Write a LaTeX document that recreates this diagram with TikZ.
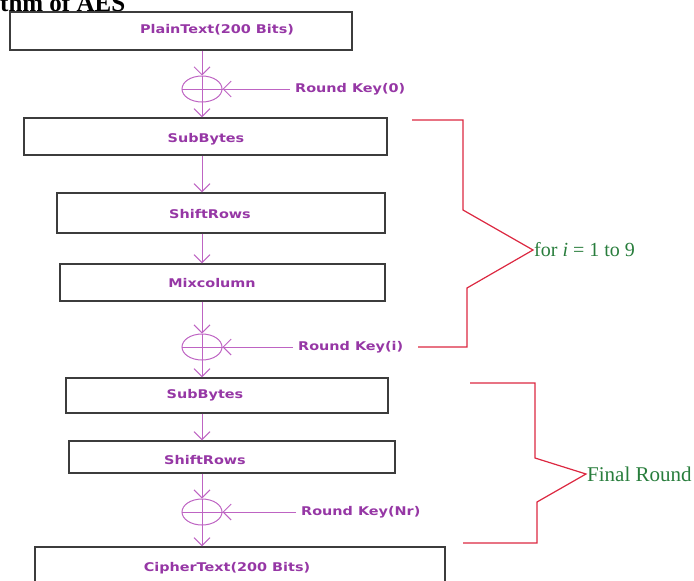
\documentclass[tikz,border=0pt]{standalone}
\usepackage{fontspec}
\setmainfont{Liberation Serif}
\newfontfamily\boxfont[FakeStretch=1.2]{DejaVu Sans}
\usetikzlibrary{arrows.meta,positioning,shapes.geometric}
\definecolor{flowpurple}{RGB}{190,100,195}
\definecolor{textpurple}{RGB}{150,55,165}
\definecolor{bracered}{RGB}{220,40,65}
\definecolor{loopgreen}{RGB}{40,125,60}
\definecolor{boxgrey}{RGB}{60,60,60}
\tikzset{
    %Define standard arrow tip
    >={Straight Barb[length=8pt,width=16pt]},
    %Define style for boxes
    blok/.style={
           rectangle,
           draw=boxgrey, line width=1.3pt,
           inner sep=0pt},
    %Define style for the texts in boxes and keys
    lbl/.style={
           font=\boxfont\bfseries\fontsize{12}{14}\selectfont,
           text=textpurple,
           inner sep=2pt},
    %Define style for the xor circles
    xorr/.style={
           ellipse,
           draw=flowpurple, line width=1pt,
           minimum width=40pt,
           minimum height=26pt,
           inner sep=0pt},
    % Define arrow style
    pil/.style={
           ->,
           draw=flowpurple,
           line width=1pt},
    brace/.style={draw=bracered, line width=1.2pt},
    roundtxt/.style={text=loopgreen, inner sep=1pt, anchor=west}
}

\begin{document}
\begin{tikzpicture}[x=1pt, y=-1pt]
\useasboundingbox (0,0) rectangle (694,581);

%title, cut by the page as in the original
\node[anchor=base west, inner sep=0pt, font=\bfseries\fontsize{25}{28}\selectfont] (title) at (0,11) {thm of AES};

%boxes
\node[blok, minimum width=342pt, minimum height=38pt] (plain) at (181,31) {};
\node[blok, minimum width=363pt, minimum height=37pt] (sub1) at (205.5,136.5) {};
\node[blok, minimum width=328pt, minimum height=40pt] (shift1) at (221,213) {};
\node[blok, minimum width=325pt, minimum height=37pt] (mix) at (222.5,282.5) {};
\node[blok, minimum width=322pt, minimum height=35pt] (sub2) at (227,395.5) {};
\node[blok, minimum width=326pt, minimum height=32pt] (shift2) at (232,457) {};
\node[blok, minimum width=410pt, minimum height=48pt] (cipher) at (240,571) {};

%texts in boxes
\node[lbl] (plainlbl) at (217,30) {PlainText(200 Bits)};
\node[lbl] (sub1lbl) at (206,139) {SubBytes};
\node[lbl] (shift1lbl) at (210,214) {ShiftRows};
\node[lbl] (mixlbl) at (212,283) {Mixcolumn};
\node[lbl] (sub2lbl) at (205,395) {SubBytes};
\node[lbl] (shift2lbl) at (205,460) {ShiftRows};
\node[lbl] (cipherlbl) at (227,568) {CipherText(200 Bits)};

%xor with the round keys
\node[xorr] (x1) at (202,89) {};
\node[xorr] (x2) at (202,347) {};
\node[xorr] (x3) at (202,512) {};
\foreach \x in {x1,x2,x3}
  \draw[flowpurple, thin] (\x.west) -- (\x.east) (\x.north) -- (\x.south);

\node[lbl, anchor=west, inner sep=5pt] (key0) at (290,89) {Round Key(0)};
\node[lbl, anchor=west, inner sep=5pt] (keyi) at (293,347) {Round Key(i)};
\node[lbl, anchor=west, inner sep=5pt] (keynr) at (296,512) {Round Key(Nr)};
\draw[pil] (key0.west) -- (x1.east);
\draw[pil] (keyi.west) -- (x2.east);
\draw[pil] (keynr.west) -- (x3.east);

%flow down
\draw[pil] (plain.south -| x1) -- (x1.north);
\draw[pil] (x1.south) -- (sub1.north -| x1);
\draw[pil] (sub1.south -| x1) -- (shift1.north -| x1);
\draw[pil] (shift1.south -| x1) -- (mix.north -| x1);
\draw[pil] (mix.south -| x2) -- (x2.north);
\draw[pil] (x2.south) -- (sub2.north -| x2);
\draw[pil] (sub2.south -| x2) -- (shift2.north -| x2);
\draw[pil] (shift2.south -| x3) -- (x3.north);
\draw[pil] (x3.south) -- (cipher.north -| x3);

%braces
\node[roundtxt, font=\fontsize{20}{23}\selectfont] (loop) at (533,250) {for \textit{i} = 1 to 9};
\draw[brace] (412,120) -- (463,120) -- (463,210) -- (loop.west) -- (467,288) -- (467,347) -- (418,347);

\node[roundtxt, font=\fontsize{21}{24}\selectfont] (final) at (586,474) {Final Round};
\draw[brace] (470,383) -- (535,383) -- (535,458) -- (final.west) -- (537,502) -- (537,543) -- (463,543);

\end{tikzpicture}
\end{document}
